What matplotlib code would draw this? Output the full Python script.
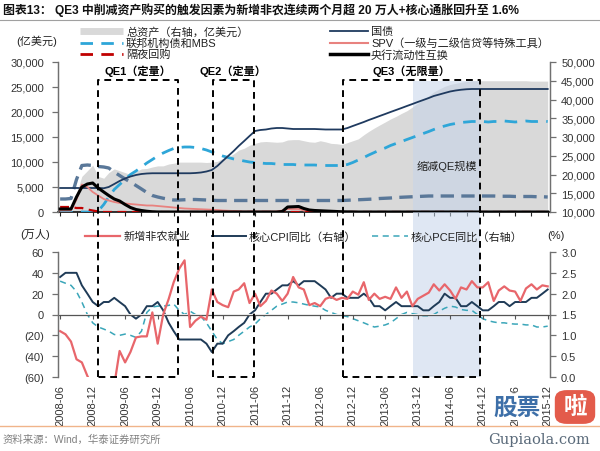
import matplotlib
matplotlib.use('Agg')
import matplotlib.pyplot as plt
import matplotlib.dates as mdates
from matplotlib.lines import Line2D
from matplotlib.patches import Rectangle, FancyBboxPatch
import matplotlib.ticker as mticker
import numpy as np
import pandas as pd

plt.rcParams['font.family'] = ['Liberation Sans', 'Noto Sans CJK SC', 'DejaVu Sans']

# ---------------- data ----------------
months = pd.date_range('2008-06-01', '2015-12-01', freq='MS')

# top panel, 亿美元 (left axis)
treasury = [4800, 4800, 4800, 4800, 4800, 4800, 4800,
            4800, 4750, 5000, 5600, 6200, 6700, 7100, 7400, 7600, 7700, 7750, 7750,
            7750, 7750, 7750, 7750, 7750, 7750, 7800, 7900, 8100, 8400, 9200, 10200,
            11200, 12200, 13200, 14200, 15200, 16200, 16400, 16500, 16700, 16800, 16800, 16700,
            16600, 16600, 16600, 16600, 16600, 16550, 16500, 16500, 16500, 16500, 16800, 17200,
            17600, 18000, 18400, 18800, 19200, 19600, 20000, 20400, 20800, 21200, 21600, 22000,
            22400, 22800, 23200, 23500, 23800, 24100, 24300, 24450, 24550, 24600, 24600, 24600,
            24600, 24600, 24600, 24600, 24600, 24600, 24600, 24600, 24600, 24600, 24600, 24600]
agency_mbs = [0, 0, 0, 0, 0, 0, 0,
              200, 1500, 3000, 4500, 5500, 6500, 7500, 8200, 9000, 9800, 10500, 11200,
              11800, 12300, 12700, 12900, 13000, 13000, 12900, 12700, 12400, 12000, 11600, 11200,
              10900, 10600, 10400, 10200, 10000, 9900, 9800, 9700, 9700, 9600, 9500, 9500,
              9500, 9400, 9400, 9400, 9400, 9300, 9300, 9300, 9300, 9300, 9500, 9900,
              10400, 10900, 11400, 11900, 12400, 12800, 13300, 13700, 14100, 14500, 14900, 15300,
              15700, 16100, 16500, 16900, 17200, 17500, 17700, 17900, 18000, 18100, 18100, 18100,
              18000, 18100, 18100, 18200, 18100, 18000, 18100, 18200, 18100, 18100, 18200, 18100]
other_assets = [2600, 2600, 2700, 6500, 9300, 9400, 9300,
                9100, 9000, 8800, 8000, 7300, 6600, 6000, 5300, 4600, 3900, 3300, 3000,
                2750, 2550, 2400, 2400, 2450, 2500, 2500, 2450, 2400, 2350, 2300, 2300,
                2300, 2300, 2300, 2300, 2300, 2300, 2300, 2300, 2300, 2300, 2300, 2300,
                2300, 2300, 2300, 2300, 2300, 2300, 2300, 2300, 2300, 2300, 2350, 2400,
                2450, 2500, 2550, 2600, 2700, 2750, 2800, 2900, 2950, 3000, 3050, 3100,
                3150, 3200, 3200, 3200, 3200, 3200, 3200, 3200, 3200, 3200, 3200, 3200,
                3200, 3200, 3150, 3150, 3150, 3100, 3100, 3100, 3100, 3050, 3050, 3000]
spv = [300, 300, 300, 2500, 5500, 5000, 4000,
       3300, 2600, 2300, 2000, 1800, 1700, 1600, 1500, 1400, 1300, 1300, 1200,
       1100, 1000, 900, 800, 700, 650, 600, 550, 500, 450, 400, 300,
       250, 200, 150, 100, 100, 100, 100, 100, 100, 100, 300, 600,
       600, 600, 300, 100, 0, 0, 0, 0, 0, 0, 0, 0,
       0, 0, 0, 0, 0, 0, 0, 0, 0, 0, 0, 0,
       0, 0, 0, 0, 0, 0, 0, 0, 0, 0, 0, 0,
       0, 0, 0, 0, 0, 0, 0, 0, 0, 0, 0, 0]
swaps = [600, 600, 600, 3000, 5000, 5600, 5800,
         4800, 4000, 3300, 2600, 2200, 1500, 900, 500, 300, 150, 50, 10,
         0, 0, 0, 0, 0, 0, 0, 0, 0, 0, 0, 0,
         0, 0, 0, 0, 0, 0, 0, 0, 0, 0, 100, 1000,
         1050, 1100, 700, 400, 300, 250, 200, 150, 100, 50, 30, 20,
         0, 0, 0, 0, 0, 0, 0, 0, 0, 0, 0, 0,
         0, 0, 0, 0, 0, 0, 0, 0, 0, 0, 0, 0,
         0, 0, 0, 0, 0, 0, 0, 0, 0, 0, 0, 0]
repo = [1000, 1000, 1000, 800, 800, 500, 300,
        100, 0, 0, 0, 0, 0, 0, 0, 0, 0, 0, 0,
        0, 0, 0, 0, 0, 0, 0, 0, 0, 0, 0, 0,
        0, 0, 0, 0, 0, 0, 0, 0, 0, 0, 0, 0,
        0, 0, 0, 0, 0, 0, 0, 0, 0, 0, 0, 0,
        0, 0, 0, 0, 0, 0, 0, 0, 0, 0, 0, 0,
        0, 0, 0, 0, 0, 0, 0, 0, 0, 0, 0, 0,
        0, 0, 0, 0, 0, 0, 0, 0, 0, 0, 0, 0]
# total assets, right axis
total_assets = [9000, 9000, 9000, 15000, 19500, 21000, 22500,
                19500, 19000, 20500, 21500, 21000, 20500, 20000, 20800, 21500, 21600, 22000, 22300,
                22300, 22800, 23000, 23300, 23300, 23300, 23300, 23300, 23200, 23300, 23500, 24300,
                24600, 25500, 26500, 27000, 27800, 28300, 28700, 28800, 28700, 28600, 28700, 29200,
                29300, 29300, 29000, 28700, 28600, 29000, 28700, 28300, 28200, 28000, 28500, 29000,
                29500, 30600, 31500, 32400, 33200, 34000, 34800, 35500, 36300, 37000, 38000, 39000,
                40000, 41000, 42000, 42800, 43500, 44000, 44300, 44600, 44800, 45000, 45000, 45000,
                45000, 45000, 45000, 45000, 45000, 45000, 45000, 45000, 44900, 44900, 44900, 44900]

# bottom panel
nfp = [-16, -19, -26, -43, -46, -59, -69,
       -79, -66, -80, -68, -35, -46, -36, -22, -21, -21, 2, -28,
       0, 15, 31, 44, 52, -12, -6, -2, -5, 24, 12, 9,
       7, 22, 24, 30, 11, 20, 8, 13, 23, 20, 13, 20,
       36, 26, 24, 9, 11, 8, 15, 17, 14, 16, 15, 22,
       19, 31, 14, 20, 15, 17, 15, 26, 16, 22, 8, 15,
       18, 21, 29, 23, 29, 23, 15, 26, 24, 32, 26, 26,
       31, 13, 23, 27, 23, 22, 13, 25, 29, 24, 28, 27]
core_cpi = [2.4, 2.5, 2.5, 2.5, 2.2, 2.0, 1.8,
            1.7, 1.8, 1.8, 1.9, 1.8, 1.7, 1.5, 1.4, 1.5, 1.7, 1.7, 1.8,
            1.6, 1.3, 1.1, 0.9, 0.9, 0.9, 0.9, 0.9, 0.8, 0.6, 0.8, 0.8,
            1.0, 1.1, 1.2, 1.3, 1.5, 1.6, 1.8, 2.0, 2.0, 2.1, 2.2, 2.2,
            2.3, 2.2, 2.3, 2.3, 2.3, 2.2, 2.1, 1.9, 2.0, 2.0, 1.9, 1.9,
            1.9, 2.0, 1.9, 1.7, 1.7, 1.6, 1.7, 1.8, 1.7, 1.7, 1.7, 1.7,
            1.6, 1.6, 1.7, 1.8, 2.0, 1.9, 1.9, 1.7, 1.7, 1.8, 1.7, 1.6,
            1.6, 1.7, 1.8, 1.8, 1.7, 1.8, 1.8, 1.8, 1.9, 1.9, 2.0, 2.1]
core_pce = [2.3, 2.25, 2.2, 2.05, 1.8, 1.5, 1.3,
            1.2, 1.15, 1.1, 1.02, 1.0, 1.03, 1.0, 0.95, 1.1, 1.55, 1.68, 1.7,
            1.7, 1.72, 1.75, 1.6, 1.5, 1.58, 1.5, 1.45, 1.3, 1.1, 0.9, 0.8,
            0.85, 0.9, 1.0, 1.1, 1.2, 1.27, 1.4, 1.5, 1.6, 1.7, 1.75, 1.8,
            1.8, 1.78, 1.75, 1.72, 1.7, 1.68, 1.6, 1.55, 1.5, 1.47, 1.45, 1.4,
            1.35, 1.3, 1.25, 1.2, 1.22, 1.25, 1.3, 1.4, 1.5, 1.55, 1.52, 1.5,
            1.47, 1.47, 1.5, 1.58, 1.65, 1.7, 1.68, 1.62, 1.6, 1.6, 1.5, 1.4,
            1.35, 1.32, 1.3, 1.3, 1.28, 1.27, 1.27, 1.25, 1.25, 1.2, 1.2, 1.22]

qe_names = ['QE1（定量）', 'QE2（定量）', 'QE3（无限量）']
qe_start = ['2009-01-01', '2010-10-07', '2012-10-07']
qe_end = ['2010-03-25', '2011-05-25', '2014-11-15']
taper_span = ['2013-11-04', '2014-11-15']
tick_labels = [d.strftime('%Y-%m') for d in pd.date_range('2008-06-01', '2015-12-01', freq='6MS')]

# ---------------- figure ----------------
W, H = 600, 452
fig = plt.figure(figsize=(6, 4.52), dpi=100)
fig.patch.set_facecolor('white')

def fx(px):
    return px / W

def fy(py):
    return 1 - py / H

x = mdates.date2num(months)
xlim = (mdates.date2num(pd.Timestamp('2008-05-20')), mdates.date2num(pd.Timestamp('2015-12-14')))

ax1r = fig.add_axes([fx(58), fy(213), fx(550) - fx(58), fy(63) - fy(213)])
ax1 = ax1r.twinx()
ax1r.yaxis.tick_right()
ax1.yaxis.tick_left()
ax1.set_zorder(ax1r.get_zorder() + 1)
ax1.patch.set_visible(False)

ax2r = fig.add_axes([fx(58), fy(378), fx(550) - fx(58), fy(253) - fy(378)])
ax2 = ax2r.twinx()
ax2r.yaxis.tick_right()
ax2.yaxis.tick_left()
ax2.set_zorder(ax2r.get_zorder() + 1)
ax2.patch.set_visible(False)

spine_c = '#707070'
tick_c = '#333333'
for a in (ax1, ax1r, ax2, ax2r):
    a.set_xlim(*xlim)
    for s in a.spines.values():
        s.set_color(spine_c)
        s.set_linewidth(0.9)
    a.spines['top'].set_visible(False)

# top limits
ax1.set_ylim(0, 30000)
ax1r.set_ylim(10000, 50000)
ax1.set_yticks(np.arange(0, 30001, 5000))
ax1r.set_yticks(np.arange(10000, 50001, 5000))
fmt_c = mticker.FuncFormatter(lambda v, p: f'{v:,.0f}')
ax1.yaxis.set_major_formatter(fmt_c)
ax1r.yaxis.set_major_formatter(fmt_c)

# bottom limits
ax2.set_ylim(-60, 60)
ax2r.set_ylim(0, 3.0)
ax2.set_yticks(np.arange(-60, 61, 20))
ax2r.set_yticks(np.arange(0, 3.01, 0.5))
ax2.yaxis.set_major_formatter(mticker.FuncFormatter(lambda v, p: f'({abs(v):.0f})' if v < 0 else f'{v:.0f}'))
ax2r.yaxis.set_major_formatter(mticker.FuncFormatter(lambda v, p: f'{v:.1f}'))

for a in (ax1, ax2):
    a.tick_params(axis='y', direction='out', length=4, width=0.9, color=spine_c,
                  labelsize=8, labelcolor=tick_c, pad=6)
for a in (ax1r, ax2r):
    a.tick_params(axis='y', direction='out', length=4, width=0.9, color=spine_c,
                  labelsize=8, labelcolor=tick_c, pad=4)

# top x axis: quarterly ticks, no labels
q_ticks = mdates.date2num(pd.date_range('2008-06-01', '2015-12-01', freq='3MS'))
for a in (ax1, ax1r):
    a.set_xticks(q_ticks)
    a.tick_params(axis='x', labelbottom=False, length=3, direction='out', color='#222222')
ax1r.spines['bottom'].set_color('#111111')
ax1r.spines['bottom'].set_linewidth(1.2)
ax1.spines['bottom'].set_visible(False)

# bottom x axis: labels at bottom, zero line with ticks
h_ticks = mdates.date2num(pd.date_range('2008-06-01', '2015-12-01', freq='6MS'))
ax2r.set_xticks(h_ticks)
ax2r.set_xticklabels(tick_labels, rotation=90, fontsize=8, color=tick_c)
ax2r.tick_params(axis='x', length=0, pad=5)
ax2.tick_params(axis='x', length=0, labelbottom=False)
ax2.spines['bottom'].set_visible(False)
ax2r.spines['bottom'].set_visible(False)
sec = ax2.secondary_xaxis(0, transform=ax2.transData)
sec.set_xticks(h_ticks)
sec.tick_params(axis='x', length=3, direction='out', color='#555555', labelbottom=False, labeltop=False)
for s in sec.spines.values():
    s.set_color('#555555')
    s.set_linewidth(0.9)

# ---------------- top panel drawing ----------------
ax1r.fill_between(x, 10000, total_assets, color='#d9d9d9', lw=0, zorder=1)
ax1.plot(x, other_assets, color='#5a7899', lw=2.4, dashes=(4, 2.2), zorder=3)
ax1.plot(x, agency_mbs, color='#2ea6d8', lw=2.0, dashes=(4.5, 3), zorder=3)
ax1.plot(x, treasury, color='#1f3a5f', lw=1.3, zorder=4)
ax1.plot(x, spv, color='#e8827f', lw=1.3, zorder=4)
ax1.plot(x, repo, color='#c00000', lw=1.6, dashes=(4, 2.5), zorder=4)
ax1.plot(x, swaps, color='#000000', lw=2.2, zorder=5)

# taper shading (top, gap, bottom)
shade_c = '#c5d5ea'
t0, t1 = mdates.date2num(pd.Timestamp(taper_span[0])), mdates.date2num(pd.Timestamp(taper_span[1]))
box_top_val = 26300
top_frac = box_top_val / 30000
ax1r.add_patch(Rectangle((t0, 0), t1 - t0, top_frac, transform=ax1r.get_xaxis_transform(),
                         color=shade_c, alpha=0.55, lw=0, zorder=2))
gap_h = (fy(213) - fy(378)) / (fy(253) - fy(378))
ax2r.add_patch(Rectangle((t0, 0), t1 - t0, gap_h, transform=ax2r.get_xaxis_transform(),
                         color=shade_c, alpha=0.55, lw=0, zorder=0.5, clip_on=False))

# ---------------- bottom panel drawing ----------------
ax2r.plot(x, core_pce, color='#3aa6b9', lw=1.1, dashes=(4, 3), zorder=3)
ax2r.plot(x, core_cpi, color='#1f3b57', lw=1.4, zorder=3)
ax2.plot(x, nfp, color='#e8666b', lw=1.6, zorder=2)

# ---------------- QE boxes (figure level) ----------------
inv = fig.transFigure.inverted()
for name, s, e in zip(qe_names, qe_start, qe_end):
    xs = mdates.date2num(pd.Timestamp(s))
    xe = mdates.date2num(pd.Timestamp(e))
    (x0, ytop) = inv.transform(ax1.transData.transform((xs, box_top_val)))
    (x1, _) = inv.transform(ax1.transData.transform((xe, box_top_val)))
    (_, ybot) = inv.transform(ax2.transData.transform((xs, -60)))
    fig.add_artist(Line2D([x0, x0, x1, x1, x0], [ybot, ytop, ytop, ybot, ybot],
                          transform=fig.transFigure, color='black', lw=1.4,
                          dashes=(3.5, 2.5), zorder=10))
    ax1.text((xs + xe) / 2, 28400, name, ha='center', va='center', fontsize=8,
             fontweight='bold', color='black', zorder=6)

ax1.text((t0 + t1) / 2, 9300, '缩减QE规模', ha='center', va='center', fontsize=8,
         color='#222222', zorder=6)

# ---------------- legends (manual) ----------------
def leg(x0, x1, y, label, tx, **kw):
    fig.add_artist(Line2D([fx(x0), fx(x1)], [fy(y), fy(y)], transform=fig.transFigure, **kw))
    fig.text(fx(tx), fy(y), label, fontsize=8, va='center', ha='left', color='#222222')

leg(80, 123, 32, '总资产（右轴，亿美元）', 126, color='#d9d9d9', lw=5, solid_capstyle='butt')
leg(80, 123, 44, '联邦机构债和MBS', 126, color='#2ea6d8', lw=2.0, dashes=(4.5, 3))
leg(80, 123, 55, '隔夜回购', 126, color='#c00000', lw=2.0, dashes=(4.5, 3))
leg(330, 368, 32, '国债', 371, color='#1f3a5f', lw=1.3)
leg(330, 368, 44, 'SPV（一级与二级信贷等特殊工具）', 371, color='#e8827f', lw=1.5)
leg(330, 368, 55, '央行流动性互换', 371, color='#000000', lw=2.5)

leg(85, 120, 237, '新增非农就业', 124, color='#e8666b', lw=1.6)
leg(212, 246, 237, '核心CPI同比（右轴）', 249, color='#1f3b57', lw=1.4)
leg(372, 408, 237, '核心PCE同比（右轴）', 411, color='#3aa6b9', lw=1.1, dashes=(4, 3))

fig.text(fx(16), fy(41), '(亿美元)', fontsize=8, va='center', color='#222222')
fig.text(fx(20), fy(235), '(万人)', fontsize=8, va='center', color='#222222')
fig.text(fx(547), fy(236), '(%)', fontsize=8, va='center', color='#222222')

# ---------------- title & footer ----------------
fig.text(fx(3), fy(10), '图表13： QE3 中削减资产购买的触发因素为新增非农连续两个月超 20 万人+核心通胀回升至 1.6%',
         fontsize=8.6, fontweight='bold', va='center', ha='left', color='#111111')
fig.add_artist(Line2D([0, 1], [fy(21), fy(21)], transform=fig.transFigure, color='#a0a0a0', lw=0.8))
fig.add_artist(Line2D([0, 1], [fy(427), fy(427)], transform=fig.transFigure, color='#f0b48a', lw=1.0))
fig.text(fx(3), fy(440), '资料来源：Wind，华泰证券研究所', fontsize=7.5, va='center', ha='left', color='#808080')

# watermark (as in the reference, it sits over the last tick labels)
wm = fig.text(fx(517), fy(408), '股票', fontsize=17, fontweight='bold', color='#3d6fa8',
              ha='center', va='center', zorder=20)
wm.set_bbox(dict(facecolor='white', edgecolor='none', pad=1))
fig.add_artist(FancyBboxPatch((fx(556), fy(424)), fx(38), fy(392) - fy(424),
                              boxstyle='round,pad=0.002,rounding_size=0.02', transform=fig.transFigure,
                              color='#e35b4b', lw=0, zorder=20))
fig.text(fx(575), fy(408), '啦', fontsize=17, fontweight='bold', color='white', ha='center', va='center',
         zorder=21)
fig.text(fx(539), fy(440), 'Gupiaola.com', fontsize=10.5, family='DejaVu Serif', color='#5b6b7b',
         ha='center', va='center', zorder=20)

fig.savefig('out.png', dpi=100, facecolor='white')
